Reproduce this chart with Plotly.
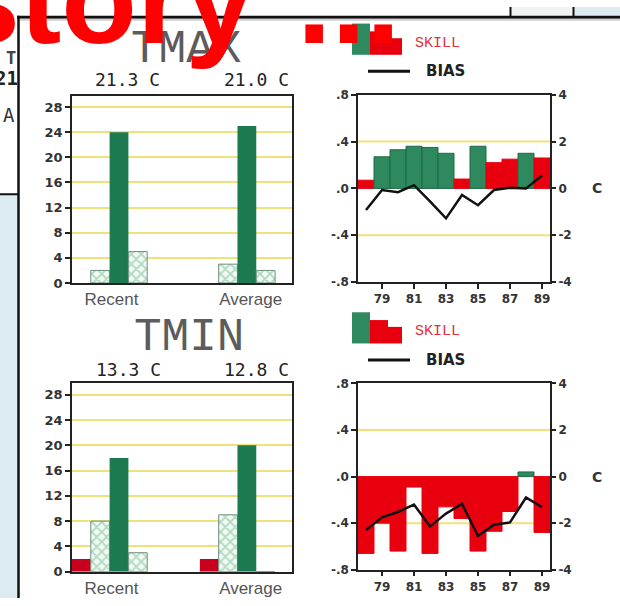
import plotly.graph_objects as go

# ---------------- data ----------------
categories = ["Recent", "Average"]

# days per class: much below, below, near normal, above, much above
tmax_recent = [0, 2, 24, 5, 0]
tmax_average = [0, 3, 25, 2, 0]
tmin_recent = [2, 8, 18, 3, 0]
tmin_average = [2, 9, 20, 0, 0]

tmax_means = ["21.3 C", "21.0 C"]
tmin_means = ["13.3 C", "12.8 C"]

years = [78, 79, 80, 81, 82, 83, 84, 85, 86, 87, 88, 89]
year_ticks = [79, 81, 83, 85, 87, 89]

tmax_skill = [0.07, 0.27, 0.33, 0.36, 0.35, 0.30, 0.08, 0.36, 0.22, 0.25, 0.30, 0.26]
tmax_skill_colour = ["r", "g", "g", "g", "g", "g", "r", "g", "r", "r", "g", "r"]
tmax_bias = [-0.92, -0.07, -0.16, 0.14, -0.55, -1.28, -0.28, -0.72, -0.07, 0.03, 0.0, 0.55]

tmin_skill = [-0.66, -0.40, -0.64, -0.09, -0.66, -0.26, -0.36, -0.64, -0.47, -0.30, 0.04, -0.48]
tmin_skill_colour = ["r", "r", "r", "r", "r", "r", "r", "r", "r", "r", "g", "r"]
tmin_bias = [-2.30, -1.75, -1.52, -1.20, -2.14, -1.59, -1.17, -2.55, -2.07, -1.97, -0.90, -1.31]

# ---------------- styling ----------------
W, H = 620, 606
GROUP_OFFSET = 6.8

RED_DARK = "#c8001e"
RED = "#e8000e"
GREEN_DARK = "#1d7a50"
SKILL_GREEN = "#2e8a5e"
GRID_YELLOW = "#f0e27a"
AXIS_FONT = dict(family="DejaVu Sans", size=13, color="#333", weight="bold")
SMALL_AXIS_FONT = dict(family="DejaVu Sans", size=12, color="#333", weight="bold")


def fx(x):
    return x / W


def fy(y):
    return 1 - y / H


fig = go.Figure()

HATCH = dict(color="#eef8f1",
             pattern=dict(shape="x", fgcolor="#6fb68d", bgcolor="#f2faf4", size=7, solidity=0.45),
             line=dict(color="#6f8f7c", width=1))
class_styles = [
    dict(marker=dict(color=RED_DARK, line=dict(width=0))),
    dict(marker=HATCH),
    dict(marker=dict(color=GREEN_DARK, line=dict(width=0))),
    dict(marker=HATCH),
    dict(marker=dict(color=RED, line=dict(width=0))),
]


def add_bar_panel(recent, average, xa, ya):
    for i in range(5):
        fig.add_trace(go.Bar(
            x=[i, GROUP_OFFSET + i], y=[recent[i], average[i]], width=1.0,
            xaxis=xa, yaxis=ya, showlegend=False, hoverinfo="skip",
            **class_styles[i]))


add_bar_panel(tmax_recent, tmax_average, "x", "y")
add_bar_panel(tmin_recent, tmin_average, "x2", "y2")


def add_skill_panel(skill, colours, bias, xa, ya, ya_bias):
    fig.add_trace(go.Bar(
        x=years, y=skill, width=1.0, xaxis=xa, yaxis=ya, showlegend=False,
        marker=dict(color=[SKILL_GREEN if c == "g" else RED for c in colours],
                    line=dict(color=["#1f6a45" if c == "g" else RED for c in colours], width=1)),
        hoverinfo="skip"))
    fig.add_trace(go.Scatter(
        x=years, y=bias, xaxis=xa, yaxis=ya_bias, mode="lines", showlegend=False,
        line=dict(color="#111", width=2.5), hoverinfo="skip"))


add_skill_panel(tmax_skill, tmax_skill_colour, tmax_bias, "x3", "y3", "y4")
add_skill_panel(tmin_skill, tmin_skill_colour, tmin_bias, "x4", "y5", "y6")

# ---------------- axes ----------------
frame = dict(showline=True, linecolor="#222", linewidth=1.5, mirror=True, zeroline=False, fixedrange=True)


def bar_x(domain_anchor):
    return dict(domain=[fx(72), fx(292)], range=[-0.5, 11.2], anchor=domain_anchor,
                tickvals=[1.6, GROUP_OFFSET + 2.2], ticktext=categories, ticks="",
                showgrid=False, tickfont=dict(family="Liberation Sans", size=17, color="#555"),
                **frame)


def bar_y(top, bottom, anchor):
    return dict(domain=[fy(bottom), fy(top)], range=[0, 29.8], anchor=anchor,
                tickvals=list(range(0, 29, 4)), ticks="outside", ticklen=5, tickwidth=1.5,
                tickcolor="#222", showgrid=True, gridcolor=GRID_YELLOW, gridwidth=2,
                tickfont=AXIS_FONT, **frame)


def skill_x(anchor):
    return dict(domain=[fx(358), fx(550)], range=[77.5, 89.5], anchor=anchor,
                tickvals=year_ticks, ticktext=[str(y) for y in year_ticks], ticks="outside",
                ticklen=5, tickwidth=1.5, tickcolor="#222", showgrid=False,
                tickfont=SMALL_AXIS_FONT, **frame)


def skill_y(top, bottom, anchor):
    return dict(domain=[fy(bottom), fy(top)], range=[-0.8, 0.8], anchor=anchor,
                tickvals=[0.8, 0.4, 0, -0.4, -0.8], ticktext=[".8", ".4", ".0", "-.4", "-.8"],
                ticks="outside", ticklen=5, tickwidth=1.5, tickcolor="#222", showgrid=False,
                tickfont=SMALL_AXIS_FONT, **frame)


def bias_y(overlay, anchor):
    return dict(overlaying=overlay, side="right", anchor=anchor, range=[-4, 4],
                tickvals=[4, 2, 0, -2, -4], ticktext=["4", "2", "0", "-2", "-4"],
                ticks="outside", ticklen=5, tickwidth=1.5, tickcolor="#222",
                showgrid=False, zeroline=False, showline=False, fixedrange=True,
                tickfont=SMALL_AXIS_FONT)


fig.update_layout(
    xaxis=bar_x("y"), yaxis=bar_y(91, 283, "x"),
    xaxis2=bar_x("y2"), yaxis2=bar_y(386, 579, "x2"),
    xaxis3=skill_x("y3"), yaxis3=skill_y(90, 282, "x3"), yaxis4=bias_y("y3", "x3"),
    xaxis4=skill_x("y5"), yaxis5=skill_y(386, 577, "x4"), yaxis6=bias_y("y5", "x4"),
)

# ---------------- page furniture ----------------
shapes = []


def rect(x0, y0, x1, y1, color, layer="below", line_color=None, line_width=0):
    shapes.append(dict(type="rect", xref="paper", yref="paper",
                       x0=fx(x0), x1=fx(x1), y0=fy(y1), y1=fy(y0),
                       fillcolor=color, layer=layer,
                       line=dict(width=line_width, color=line_color or color)))


def line(x0, y0, x1, y1, color, width, layer="above"):
    shapes.append(dict(type="line", xref="paper", yref="paper",
                       x0=fx(x0), x1=fx(x1), y0=fy(y0), y1=fy(y1),
                       line=dict(color=color, width=width), layer=layer))


rect(0, 192, 18, 606, "#dcecf1")
rect(574, 0, 620, 9, "#dcecf1")
rect(511, 0, 573, 9, "#f2f4f4")
line(17, 10.5, 620, 10.5, "#111", 3)
line(19, 13, 620, 13, "#cfcfcf", 2)
line(18.5, 9, 18.5, 606, "#111", 2.5)
line(0, 192, 18, 192, "#111", 2)
line(510.5, 0, 510.5, 10, "#111", 2)
line(573.5, 0, 573.5, 10, "#111", 2)

# yellow reference lines at +/-.4 on the skill panels
for xr, yr in (("x3", "y3"), ("x4", "y5")):
    for v in (0.4, -0.4):
        shapes.append(dict(type="line", xref=xr + " domain", yref=yr, x0=0, x1=1, y0=v, y1=v,
                           line=dict(color=GRID_YELLOW, width=2), layer="below"))

# SKILL / BIAS legend icons
for dy in (0, 296):
    rect(352, 17 + dy, 370, 49 + dy, SKILL_GREEN, layer="above")
    rect(370, 25 + dy, 388, 49 + dy, RED, layer="above")
    rect(388, 32 + dy, 402, 49 + dy, RED, layer="above")
    line(368, 66 + dy, 410, 66 + dy, "#111", 3)

fig.update_layout(shapes=shapes)

ann = []


def text(x, y, s, font, xanchor="center", yanchor="middle"):
    ann.append(dict(xref="paper", yref="paper", x=fx(x), y=fy(y), text=s, showarrow=False,
                    xanchor=xanchor, yanchor=yanchor, font=font))


TITLE_FONT = dict(family="Liberation Mono", size=46, color="#5c5c5c")
MEAN_FONT = dict(family="DejaVu Sans Mono", size=18, color="#222")

text(186, 44, "TMAX", TITLE_FONT)
text(189, 339, "TMIN", TITLE_FONT)
text(127, 74, tmax_means[0], MEAN_FONT)
text(256, 74, tmax_means[1], MEAN_FONT)
text(128, 372, tmin_means[0], MEAN_FONT)
text(256, 372, tmin_means[1], MEAN_FONT)

for dy in (0, 296):
    text(437, 37 + dy, "SKILL", dict(family="Liberation Mono", size=15, color="#e0303c"))
    text(445, 66 + dy, "BIAS", dict(family="DejaVu Sans", size=15, color="#222", weight="bold"))
    text(597, 186 + dy, "C", dict(family="DejaVu Sans", size=14, color="#333", weight="bold"))

# fragments of the slide behind the panel
text(18, 52, "T", dict(family="DejaVu Sans Mono", size=17, color="#444", weight="bold"), xanchor="right")
text(20, 73, "21", dict(family="DejaVu Sans Mono", size=19, color="#222", weight="bold"), xanchor="right")
text(9, 111, "A", dict(family="DejaVu Sans Mono", size=19, color="#333"))

# slide heading overlay
HEAD_FONT = dict(family="Liberation Sans", size=124, color="#ff0000", weight="bold")
text(256, 66, "story", HEAD_FONT, xanchor="right", yanchor="bottom")
text(295, 66, "...", HEAD_FONT, xanchor="left", yanchor="bottom")

fig.update_layout(
    annotations=ann,
    width=W, height=H,
    margin=dict(l=0, r=0, t=0, b=0),
    paper_bgcolor="white", plot_bgcolor="white",
    barmode="overlay", showlegend=False,
)

fig.write_html("out.html", config=dict(displayModeBar=False))
